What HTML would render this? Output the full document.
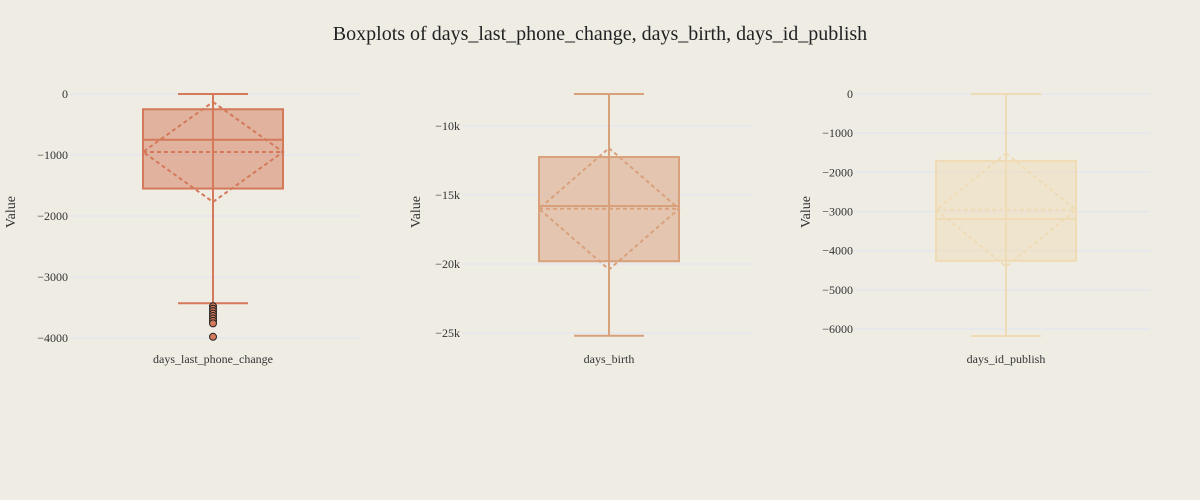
<!DOCTYPE html>
<html><head><meta charset="utf-8"><style>
body{margin:0;background:#efece4;}
svg{display:block;font-family:"Liberation Serif",serif;}
</style></head><body>
<svg id="chart" width="1200" height="500" viewBox="0 0 1200 500">
<rect width="1200" height="500" fill="#efece4"/>
<text x="600" y="40" text-anchor="middle" font-size="20" fill="#222">Boxplots of days_last_phone_change, days_birth, days_id_publish</text>
</svg>
<script>
const names = ["days_last_phone_change","days_birth","days_id_publish"];
const upperWhisker = [0,-7680,0];
const q3Values = [-250,-12250,-1710];
const medians = [-750,-15800,-3190];
const means = [-950,-16000,-2960];
const sds = [820,4400,1445];
const q1Values = [-1550,-19800,-4260];
const lowerWhisker = [-3430,-25200,-6180];
const outliers0 = [-3480,-3520,-3560,-3600,-3640,-3680,-3720,-3760,-3980];
const ticks0 = [0,-1000,-2000,-3000,-4000];
const ticks1 = [-10000,-15000,-20000,-25000];
const tickLabels1 = ["−10k","−15k","−20k","−25k"];
const ticks2 = [0,-1000,-2000,-3000,-4000,-5000,-6000];

const svg=document.getElementById('chart');
const NS='http://www.w3.org/2000/svg';
function mk(tag,attrs,parent){const e=document.createElementNS(NS,tag);for(const k in attrs)e.setAttribute(k,attrs[k]);(parent||svg).appendChild(e);return e;}
const panels=[
 {x0:70,x1:360,cx:213,ymax:0,ymin:-4000,py0:94,py1:338,color:'#d4795a',fill:'rgba(212,121,90,0.5)',ticks:ticks0,labels:ticks0.map(v=>v===0?'0':'−'+Math.abs(v)),out:outliers0,ylabX:15},
 {x0:462,x1:752,cx:609,ymax:-10000,ymin:-25000,py0:126,py1:333,color:'#d9a07c',fill:'rgba(217,160,124,0.5)',ticks:ticks1,labels:tickLabels1,out:[],ylabX:420},
 {x0:855,x1:1150,cx:1006,ymax:0,ymin:-6000,py0:94,py1:329,color:'#efdbb6',fill:'rgba(239,219,182,0.5)',ticks:ticks2,labels:ticks2.map(v=>v===0?'0':'−'+Math.abs(v)),out:[],ylabX:810}
];
panels.forEach((p,i)=>{
 const y=v=>p.py0+(v-p.ymax)*(p.py1-p.py0)/(p.ymin-p.ymax);
 const g=mk('g',{});
 
 
 p.ticks.forEach((t,j)=>{
  const gl=mk('line',{x1:p.x0,x2:p.x1,y1:y(t),y2:y(t),stroke:'#e4e6ee','stroke-width':1.5},g);
  
  
  const tl=mk('text',{x:p.x0-2,y:y(t)+4,'text-anchor':'end','font-size':12,fill:'#333'},g);
  
  
  tl.textContent=p.labels[j];
 });
 const yl=mk('text',{x:p.ylabX+4,y:216,'text-anchor':'middle','font-size':14,fill:'#333',transform:`rotate(-90 ${p.ylabX} 216)`},g);
 
 
 yl.textContent='Value';
 const xl=mk('text',{x:p.cx,y:363,'text-anchor':'middle','font-size':12,fill:'#333'},g);
 
 
 xl.textContent=names[i];
 const hw=70,cw=35,c=p.color;
 const w=mk('line',{x1:p.cx,x2:p.cx,y1:y(upperWhisker[i]),y2:y(lowerWhisker[i]),stroke:c,'stroke-width':2},g);
 
 
 [upperWhisker[i],lowerWhisker[i]].forEach(v=>{
  const cap=mk('line',{x1:p.cx-cw,x2:p.cx+cw,y1:y(v),y2:y(v),stroke:c,'stroke-width':2},g);
  
  
 });
 const b=mk('rect',{x:p.cx-hw,y:y(q3Values[i]),width:2*hw,height:y(q1Values[i])-y(q3Values[i]),fill:p.fill,stroke:c,'stroke-width':2},g);
 
 
 const m=mk('line',{x1:p.cx-hw,x2:p.cx+hw,y1:y(medians[i]),y2:y(medians[i]),stroke:c,'stroke-width':2},g);
 
 
 const mn=mk('line',{x1:p.cx-hw,x2:p.cx+hw,y1:y(means[i]),y2:y(means[i]),stroke:c,'stroke-width':2,'stroke-dasharray':'4,3'},g);
 
 
 const mu=means[i],s=sds[i];
 const d=mk('polygon',{points:`${p.cx},${y(mu+s)} ${p.cx+hw},${y(mu)} ${p.cx},${y(mu-s)} ${p.cx-hw},${y(mu)}`,fill:'none',stroke:c,'stroke-width':2,'stroke-dasharray':'4,3'},g);
 
 
 p.out.forEach(v=>{
  const o=mk('circle',{cx:p.cx,cy:y(v),r:3.5,fill:c,stroke:'#222','stroke-width':1},g);
  
  
 });
});
</script>
</body></html>
